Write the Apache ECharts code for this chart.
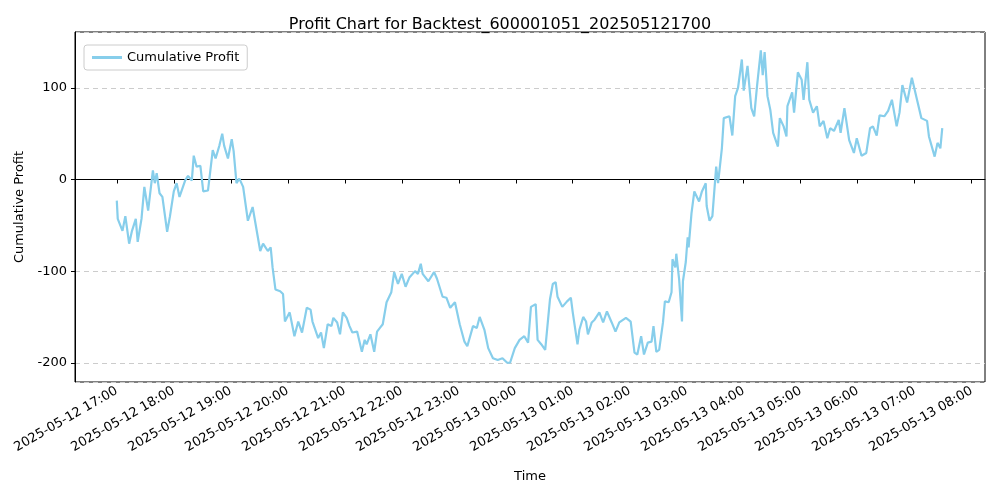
<!DOCTYPE html>
<html><head><meta charset="utf-8">
<script src="https://cdn.jsdelivr.net/npm/echarts@6/dist/echarts.min.js"></script>
<style>html,body{margin:0;padding:0;background:#fff}#c{width:1000px;height:500px}</style>
</head><body><div id="c"></div>
<script>
// minutes after 2025-05-12 17:00
const minutes = [0,1,6,9,13,16,20,22,26,29,33,38,40,42,45,48,53,56,60,63,66,72,75,79,81,84,88,91,96,100,101,104,108,111,113,117,121,123,126,129,133,138,143,151,154,159,162,164,167,172,175,177,179,182,184,187,191,195,200,204,206,212,215,218,222,226,228,232,235,238,242,245,248,253,258,261,263,267,271,274,277,280,284,289,292,296,300,304,308,314,317,320,322,328,334,337,343,347,351,356,361,366,369,375,379,382,387,391,396,401,406,411,414,419,424,429,433,436,441,443,447,451,454,456,459,462,464,469,474,478,480,485,487,491,494,496,500,503,508,512,516,521,525,529,536,541,545,548,552,555,559,563,565,568,571,575,577,581,584,585,588,589,592,595,596,599,601,602,605,608,613,616,620,621,624,627,631,633,637,639,645,648,651,654,658,660,664,668,671,674,678,680,682,685,688,691,696,698,702,705,706,711,713,717,721,723,727,729,733,737,740,744,748,751,755,760,762,766,771,776,779,784,789,793,796,800,803,808,812,816,821,824,827,832,837,842,847,853,855,861,864,867,869];
const profit = [-23,-43,-56,-40,-70,-56,-43,-68,-43,-8,-34,10,-4,7,-15,-19,-57,-40,-13,-4,-19,-1,4,-1,26,14,15,-13,-12,23,32,23,37,50,37,23,44,31,-4,1,-8,-45,-30,-78,-70,-78,-74,-96,-120,-122,-125,-155,-156,-145,-145,-171,-155,-167,-140,-142,-155,-173,-167,-184,-158,-160,-151,-156,-169,-145,-151,-160,-167,-166,-188,-175,-180,-169,-188,-166,-162,-158,-134,-123,-101,-114,-103,-117,-107,-100,-103,-92,-103,-111,-101,-108,-128,-129,-140,-134,-158,-177,-182,-160,-162,-150,-164,-184,-195,-197,-195,-200,-200,-184,-175,-171,-178,-139,-136,-175,-180,-186,-153,-131,-114,-112,-128,-139,-133,-129,-145,-180,-164,-150,-155,-169,-156,-153,-145,-156,-144,-156,-166,-156,-151,-155,-189,-191,-171,-191,-178,-177,-160,-188,-186,-156,-133,-134,-123,-87,-96,-81,-109,-155,-111,-90,-63,-74,-37,-13,-24,-13,-4,-29,-45,-40,14,-4,34,67,69,48,91,100,131,97,124,78,69,102,141,114,139,91,76,51,36,67,58,47,80,95,73,117,109,87,128,87,73,80,58,64,45,56,53,65,51,78,43,29,45,26,29,56,58,48,70,69,75,87,58,73,103,84,111,89,67,64,47,25,40,34,56];
const startTime = new Date(2025,4,12,17,0,0).getTime();
const data = minutes.map((m,i)=>[startTime + m*60000, profit[i]]);
const p2 = n=>String(n).padStart(2,'0');
const chart = echarts.init(document.getElementById('c'));
chart.setOption({
  animation:false,
  textStyle:{fontFamily:'DejaVu Sans'},
  title:{text:'Profit Chart for Backtest_600001051_202505121700',left:'center',top:12,
    textStyle:{fontSize:16,fontWeight:'normal',color:'#000',fontFamily:'DejaVu Sans'}},
  legend:{left:84,top:45,itemWidth:30,itemHeight:3,padding:[6,8],borderColor:'#ccc',borderWidth:1,borderRadius:3,
    textStyle:{fontSize:13,color:'#000'},icon:'rect',data:['Cumulative Profit']},
  grid:{left:75,right:15,top:32,bottom:118,show:true,borderColor:'#000',borderWidth:1},
  xAxis:{type:'time',
    min:new Date(2025,4,12,16,16).getTime(),max:new Date(2025,4,13,8,14).getTime(),
    minInterval:7200000,maxInterval:7200000,
    name:'Time',nameLocation:'middle',nameGap:88,nameTextStyle:{fontSize:13,color:'#000'},
    axisLine:{show:true,lineStyle:{color:'#000'}},
    axisTick:{show:true,length:4,lineStyle:{color:'#000'}},
    splitLine:{show:false},
    axisLabel:{rotate:30,fontSize:13,color:'#000',showMinLabel:false,showMaxLabel:false,hideOverlap:false,
      formatter:v=>{const d=new Date(v);return d.getFullYear()+'-'+p2(d.getMonth()+1)+'-'+p2(d.getDate())+' '+p2(d.getHours())+':'+p2(d.getMinutes());}}},
  yAxis:{type:'value',min:-221,max:161,
    name:'Cumulative Profit',nameLocation:'middle',nameGap:48,nameTextStyle:{fontSize:13,color:'#000'},
    axisLine:{show:true,lineStyle:{color:'#000'}},
    axisTick:{show:true,length:4,lineStyle:{color:'#000'}},
    axisLabel:{fontSize:13,color:'#000',showMinLabel:false,showMaxLabel:false,formatter:v=>(v%50===0?String(v):'')},
    splitLine:{show:true,lineStyle:{color:'#ccc',type:[5,4]}}},
  series:[{name:'Cumulative Profit',type:'line',data:data,symbol:'none',
    lineStyle:{color:'#87CEEB',width:2.2},itemStyle:{color:'#87CEEB'}}]
});
</script></body></html>
